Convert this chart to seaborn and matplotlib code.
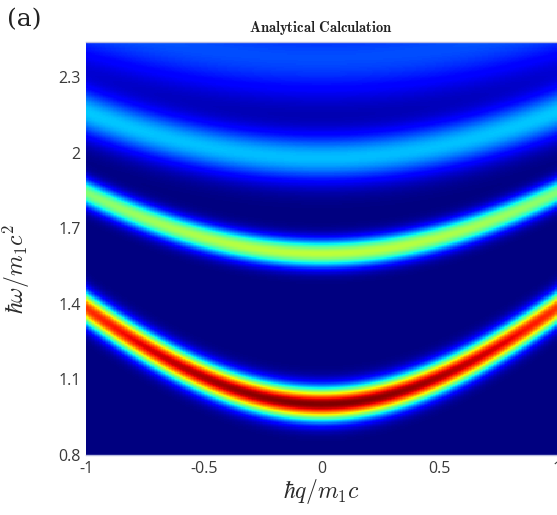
import numpy as np
import pandas as pd
import matplotlib
matplotlib.use("Agg")
import matplotlib.pyplot as plt
import seaborn as sns

# ---- data ----
q_ticks = [-1, -0.5, 0, 0.5, 1]
q_tick_labels = ["-1", "-0.5", "0", "0.5", "1"]
omega_ticks = [0.8, 1.1, 1.4, 1.7, 2.0, 2.3]
omega_tick_labels = ["0.8", "1.1", "1.4", "1.7", "2", "2.3"]
q_range = [-1.0, 1.0]
omega_range = [0.8, 2.44]

# band energy at q = 0 and at |q| = 1
band_gap = [1.00, 1.60, 1.98, 2.38]
band_edge = [1.38, 1.84, 2.16, 2.52]
# peak intensity at q = 0 and at |q| = 1 (colour scale 0..1)
band_peak_center = [1.00, 0.58, 0.31, 0.20]
band_peak_edge = [0.86, 0.51, 0.32, 0.21]
# spectral width of each band
band_width = [0.045, 0.038, 0.068, 0.12]

# ---- build the spectral map ----
nq, nw = 300, 330
q = np.linspace(q_range[0], q_range[1], nq)
w = np.linspace(omega_range[1], omega_range[0], nw)  # top row = highest omega
Q, W = np.meshgrid(q, w)
A = np.zeros_like(Q)
for g, e, pc, pe, s in zip(band_gap, band_edge, band_peak_center, band_peak_edge, band_width):
    w0 = np.sqrt(g**2 + (e**2 - g**2) * Q**2)
    amp = pc + (pe - pc) * Q**2
    A += amp * np.exp(-0.5 * ((W - w0) / s) ** 2)
A = np.clip(A, 0, 1)
df = pd.DataFrame(A, index=np.round(w, 4), columns=np.round(q, 4))

# ---- plot ----
sns.set_style("white")
plt.rcParams["mathtext.fontset"] = "cm"
plt.rcParams["font.family"] = ["Open Sans", "DejaVu Sans"]

fig = plt.figure(figsize=(5.57, 5.15), dpi=100)
ax = fig.add_axes([86 / 557, 1 - 455 / 515, 471 / 557, 413 / 515])
sns.heatmap(df, ax=ax, cmap="jet", vmin=0, vmax=1, cbar=False,
            xticklabels=False, yticklabels=False, rasterized=True)

def xpos(v):
    return (v - q_range[0]) / (q_range[1] - q_range[0]) * nq

def ypos(v):
    return (omega_range[1] - v) / (omega_range[1] - omega_range[0]) * nw

ax.set_xticks([xpos(v) for v in q_ticks])
ax.set_xticklabels(q_tick_labels)
ax.set_yticks([ypos(v) for v in omega_ticks])
ax.set_yticklabels(omega_tick_labels, rotation=0)
ax.tick_params(length=0, labelsize=11.5, colors="#3a3a3a", pad=4)

ax.set_xlabel(r"$\hbar q/m_1c$", fontsize=17, color="#2a2a2a", labelpad=0)
ax.set_ylabel(r"$\hbar\omega/m_1c^2$", fontsize=17, color="#2a2a2a", labelpad=2)
ax.yaxis.set_label_coords(-0.115, 0.45)
ax.set_title(r"$\mathbf{Analytical\ Calculation}$", fontsize=10.5, color="#222222", pad=7)
fig.text(0.012, 0.962, "(a)", fontsize=18, family="DejaVu Serif", color="#222222",
         va="center", ha="left")

for sp in ["top", "bottom"]:
    ax.spines[sp].set_visible(True)
    ax.spines[sp].set_color("#b8bce0")
    ax.spines[sp].set_linewidth(1.0)

fig.savefig("out.png", dpi=100)
